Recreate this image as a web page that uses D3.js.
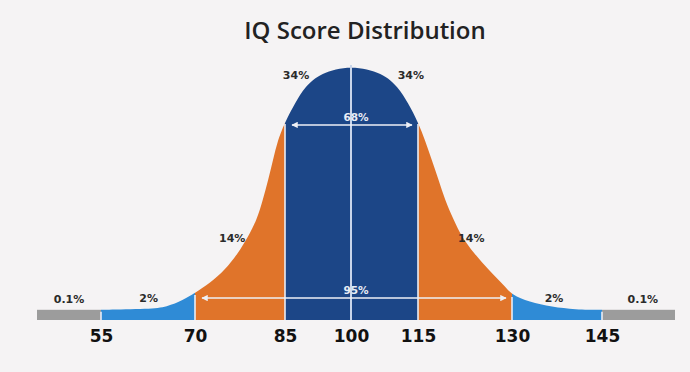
<!DOCTYPE html>
<html><head><meta charset="utf-8">
<script src="https://cdn.jsdelivr.net/npm/d3@7"></script>
<style>body{margin:0;background:#f5f3f4;} svg{display:block}</style>
</head><body><svg id="c" width="690" height="372"></svg>
<script>
const title = "IQ Score Distribution";
const tickValues = [55, 70, 85, 100, 115, 130, 145];
// curve: IQ vs relative height (peak = 1)
const curveIQ = [55, 62.8, 65.5, 68.1, 70, 72.5, 75, 77.2, 78.8, 80.3, 81.3, 82.2, 83, 83.8, 85, 87.3, 89.5, 93, 100, 107.2, 110.5, 112.8, 115, 116.1, 117.2, 118.3, 119.3, 120.7, 122, 123.9, 126.3, 128.7, 130, 132.8, 136.7, 140.5, 145];
const curveDensity = [0.04, 0.043, 0.051, 0.078, 0.106, 0.145, 0.196, 0.263, 0.325, 0.392, 0.471, 0.549, 0.627, 0.706, 0.776, 0.851, 0.914, 0.969, 1, 0.969, 0.914, 0.851, 0.776, 0.706, 0.627, 0.549, 0.471, 0.392, 0.325, 0.263, 0.196, 0.137, 0.098, 0.071, 0.051, 0.041, 0.04];
const bandStarts = [40, 55, 70, 85, 115, 130, 145];
const bandEnds = [55, 70, 85, 115, 130, 145, 160];
const bandKinds = ["tail", "curve", "curve", "curve", "curve", "curve", "tail"];
const bandColors = ["#9c9c9c", "#2f8bd6", "#e0742a", "#1c4687", "#e0742a", "#2f8bd6", "#9c9c9c"];
const tailLevel = 0.04;
const labelTexts = ["0.1%", "2%", "14%", "34%", "34%", "14%", "2%", "0.1%"];
const labelIQ = [47.5, 62.6, 76.2, 87.5, 113.4, 123.5, 137, 153.4];
const labelLevel = [0.08, 0.085, 0.32, 0.96, 0.96, 0.32, 0.085, 0.08];
const spanTexts = ["68%", "95%"];
const spanFrom = [85, 70];
const spanTo = [115, 130];
const spanLevel = [0.765, 0.086];

const svg = d3.select("#c");
const x = d3.scaleLinear()
  .domain([40, 55, 70, 85, 100, 115, 130, 145, 160])
  .range([37, 101, 195, 285, 351, 418, 512, 602, 675]);
const y = d3.scaleLinear().domain([0, 1]).range([320, 65]);

svg.append("rect").attr("width", 690).attr("height", 372).attr("fill", "#f5f3f4");

svg.append("text").attr("x", 365).attr("y", 39).attr("text-anchor", "middle")
  .attr("font-family", "'Open Sans', sans-serif").attr("font-weight", 600)
  .attr("font-size", 24).attr("fill", "#222").text(title);

const pts = curveIQ.map((v, i) => ({iq: v, v: curveDensity[i]}));
const area = d3.area().x(d => x(d.iq)).y0(y(0)).y1(d => y(d.v)).curve(d3.curveBasis);
const defs = svg.append("defs");

bandStarts.forEach((s, i) => {
  const e = bandEnds[i];
  if (bandKinds[i] === "tail") {
    svg.append("rect").attr("x", x(s)).attr("width", x(e) - x(s))
      .attr("y", y(tailLevel)).attr("height", y(0) - y(tailLevel)).attr("fill", bandColors[i]);
  } else {
    defs.append("clipPath").attr("id", "cp" + i).append("rect")
      .attr("x", x(s)).attr("width", x(e) - x(s)).attr("y", 0).attr("height", 372);
    svg.append("path").datum(pts).attr("d", area).attr("fill", bandColors[i])
      .attr("clip-path", "url(#cp" + i + ")");
  }
});

// separators
const interp = d3.scaleLinear().domain(curveIQ).range(curveDensity);
[55, 70, 85, 115, 130, 145].forEach(v => {
  svg.append("line").attr("x1", x(v)).attr("x2", x(v)).attr("y1", y(0)).attr("y2", y(interp(v)) + 2)
    .attr("stroke", "#e9edf5").attr("stroke-width", 1.6);
});
svg.append("line").attr("x1", x(100)).attr("x2", x(100)).attr("y1", y(0)).attr("y2", y(1))
  .attr("stroke", "#c9d5ea").attr("stroke-width", 2);

// span arrows
const mk = defs.append("marker").attr("id", "ah").attr("viewBox", "0 0 10 10")
  .attr("refX", 9).attr("refY", 5).attr("markerWidth", 4).attr("markerHeight", 4)
  .attr("orient", "auto-start-reverse");
mk.append("path").attr("d", "M0,0 L10,5 L0,10 z").attr("fill", "#eef0f6");
spanTexts.forEach((t, i) => {
  const yy = y(spanLevel[i]);
  svg.append("line").attr("x1", x(spanFrom[i]) + 7).attr("x2", x(spanTo[i]) - 6)
    .attr("y1", yy).attr("y2", yy).attr("stroke", "#eef0f6").attr("stroke-width", 1.6)
    .attr("marker-start", "url(#ah)").attr("marker-end", "url(#ah)");
  svg.append("text").attr("x", x(100) + 5).attr("y", yy - 4).attr("text-anchor", "middle")
    .attr("font-family", "'DejaVu Sans', sans-serif").attr("font-weight", 700)
    .attr("font-size", 10.5).attr("fill", "#e8edf6").text(t);
});

// band labels
labelTexts.forEach((t, i) => {
  svg.append("text").attr("x", x(labelIQ[i])).attr("y", y(labelLevel[i])).attr("dy", "0.35em")
    .attr("text-anchor", "middle").attr("font-family", "'DejaVu Sans', sans-serif")
    .attr("font-weight", 700).attr("font-size", 11).attr("fill", "#2b2b2b").text(t);
});

// axis
const ax = svg.append("g").attr("transform", "translate(0," + y(0) + ")")
  .call(d3.axisBottom(x).tickValues(tickValues).tickSize(0).tickPadding(10));
ax.select(".domain").remove();
ax.selectAll("text").attr("font-family", "'DejaVu Sans', sans-serif")
  .attr("font-weight", 700).attr("font-size", 17).attr("fill", "#111");
</script></body></html>
